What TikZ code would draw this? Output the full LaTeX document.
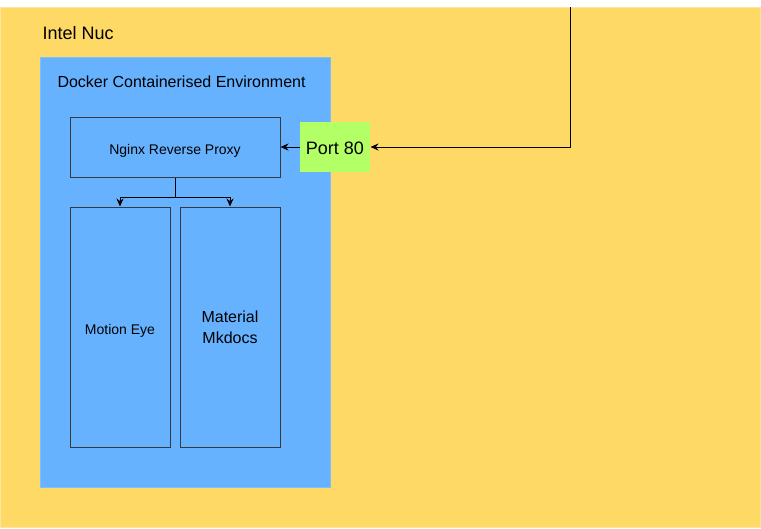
\documentclass[tikz,border=0pt]{standalone}
\usepackage{fontspec}
\setmainfont{Liberation Sans}
\usetikzlibrary{arrows.meta, positioning, shapes}

\definecolor{nucyellow}{HTML}{FFD966}
\definecolor{nucedge}{HTML}{FFE599}
\definecolor{dockblue}{HTML}{66B2FF}
\definecolor{dockedge}{HTML}{7EC0FF}
\definecolor{portgreen}{HTML}{B3FF66}
\definecolor{boxedge}{HTML}{36393D}

\begin{document}
\begin{tikzpicture}[x=1pt, y=-1pt,
                    every node/.style={rectangle, inner sep=0pt, text=black},
                    every path/.style={line width=1pt},
                    box/.style={draw=boxedge, fill=dockblue},
                    small/.style={font=\fontsize{14}{16}\selectfont, text height=14.6pt, text depth=0pt},
                    arr/.style={-{Stealth[length=8pt, width=7pt]}}]

\useasboundingbox (0,0) rectangle (761,528);

% Nodes
\node[fill=nucyellow, draw=nucedge, minimum width=760pt, minimum height=520pt] (nuc) at (380,267) {};
\node[anchor=west, font=\fontsize{18}{21}\selectfont] (nuclabel) at (42,33) {Intel Nuc};

\node[fill=dockblue, draw=dockedge, minimum width=290pt, minimum height=430pt] (docker) at (185,272) {};
\node[anchor=west, font=\fontsize{16}{19}\selectfont] (dockerlabel) at (57,82) {Docker Containerised Environment};

\node[box, small, minimum width=210pt, minimum height=60pt] (nginx) at (175,147) {Nginx Reverse Proxy};
\node[fill=portgreen, draw=none, minimum width=70pt, minimum height=50pt, font=\fontsize{18}{21}\selectfont, text height=14pt, text depth=0pt] (port) at (335,147) {Port 80};

\node[box, small, minimum width=100pt, minimum height=240pt] (motion) at (120,327) {Motion Eye};
\node[box, minimum width=100pt, minimum height=240pt, align=center, font=\fontsize{16}{21}\selectfont] (mkdocs) at (230,327) {Material\\Mkdocs};

\coordinate (inlet) at (570,7);
\coordinate (split) at (175,197);

% Edges
\draw[arr] (inlet) |- (port);
\draw[arr] (port) -- (nginx);
\draw (nginx) -- (split);
\draw[arr] (split) -| (motion);
\draw[arr] (split) -| (mkdocs);

\end{tikzpicture}
\end{document}
